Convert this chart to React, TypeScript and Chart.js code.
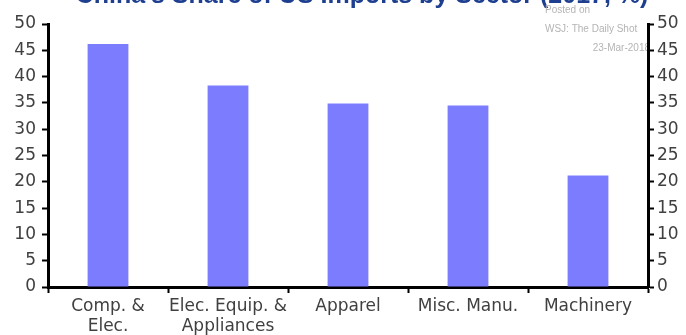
import React, { useEffect, useRef } from "react";
import { Chart, registerables } from "chart.js";

Chart.register(...registerables);

const categories: (string | string[])[] = [
  ["Comp. &", "Elec."],
  ["Elec. Equip. &", "Appliances"],
  "Apparel",
  "Misc. Manu.",
  "Machinery",
];
const shareValues = [46.2, 38.3, 34.9, 34.5, 21.2];
const axisMin = 0;
const axisMax = 50;
const axisStep = 5;
const titleText = "China's Share of US Imports by Sector (2017, %)";
const watermarkLines = ["Posted on", "WSJ: The Daily Shot", "23-Mar-2018"];

const BAR_COLOR = "rgb(124, 124, 255)";
const TEXT_COLOR = "#404040";
const FONT_FAMILY = "'DejaVu Sans', sans-serif";

// Title strip and the faint attribution text sit behind the axes.
const backdropPlugin = {
  id: "backdrop",
  beforeDraw(chart: Chart) {
    const { ctx } = chart;
    ctx.save();
    ctx.fillStyle = "#1e3f8f";
    ctx.font = "bold 25px 'Liberation Sans', Arial, sans-serif";
    ctx.textAlign = "center";
    ctx.textBaseline = "alphabetic";
    ctx.fillText(titleText, 362, 3);

    ctx.fillStyle = "#b4b4b4";
    ctx.font = "10px 'Liberation Sans', Arial, sans-serif";
    ctx.textBaseline = "middle";
    ctx.textAlign = "left";
    ctx.fillText(watermarkLines[0], 545, 10);
    ctx.fillText(watermarkLines[1], 545, 29);
    ctx.textAlign = "right";
    ctx.fillText(watermarkLines[2], 650, 48);
    ctx.restore();
  },
};

export default function App() {
  const canvasRef = useRef<HTMLCanvasElement | null>(null);

  useEffect(() => {
    if (!canvasRef.current) return;
    const tickFont = { family: FONT_FAMILY, size: 17 };
    const yAxisCommon = {
      type: "linear" as const,
      min: axisMin,
      max: axisMax,
      ticks: {
        stepSize: axisStep,
        color: TEXT_COLOR,
        font: tickFont,
      },
      grid: {
        drawOnChartArea: false,
        drawTicks: true,
        tickLength: 6,
        tickWidth: 2,
        tickColor: "#000",
      },
      border: { display: true, color: "#000", width: 3 },
    };

    const chart = new Chart(canvasRef.current, {
      type: "bar",
      data: {
        labels: categories,
        datasets: [
          {
            data: shareValues,
            backgroundColor: BAR_COLOR,
            borderWidth: 0,
            barPercentage: 0.34,
            categoryPercentage: 1,
            yAxisID: "y",
          },
        ],
      },
      options: {
        responsive: false,
        animation: false,
        layout: { padding: { top: 24, left: 0, right: 0, bottom: 0 } },
        plugins: {
          legend: { display: false },
          tooltip: { enabled: false },
          title: { display: false },
        },
        scales: {
          x: {
            type: "category",
            offset: true,
            ticks: {
              color: TEXT_COLOR,
              font: tickFont,
              padding: 3,
              maxRotation: 0,
              autoSkip: false,
            },
            grid: {
              offset: true,
              drawOnChartArea: false,
              drawTicks: true,
              tickLength: 6,
              tickWidth: 2,
              tickColor: "#000",
            },
            border: { display: true, color: "#000", width: 3 },
            afterFit(scale: any) {
              scale.height = 48;
            },
          },
          y: {
            ...yAxisCommon,
            position: "left",
            ticks: { ...yAxisCommon.ticks, padding: 6 },
            afterFit(scale: any) {
              scale.width = 48;
            },
          },
          y2: {
            ...yAxisCommon,
            position: "right",
            ticks: { ...yAxisCommon.ticks, padding: 3 },
            afterFit(scale: any) {
              scale.width = 38;
            },
          },
        },
      },
      plugins: [backdropPlugin],
    });
    return () => chart.destroy();
  }, []);

  return (
    <div
      style={{
        position: "fixed",
        left: 0,
        top: 0,
        width: 686,
        height: 335,
        background: "#fff",
      }}
    >
      <canvas ref={canvasRef} width={686} height={335} />
    </div>
  );
}
